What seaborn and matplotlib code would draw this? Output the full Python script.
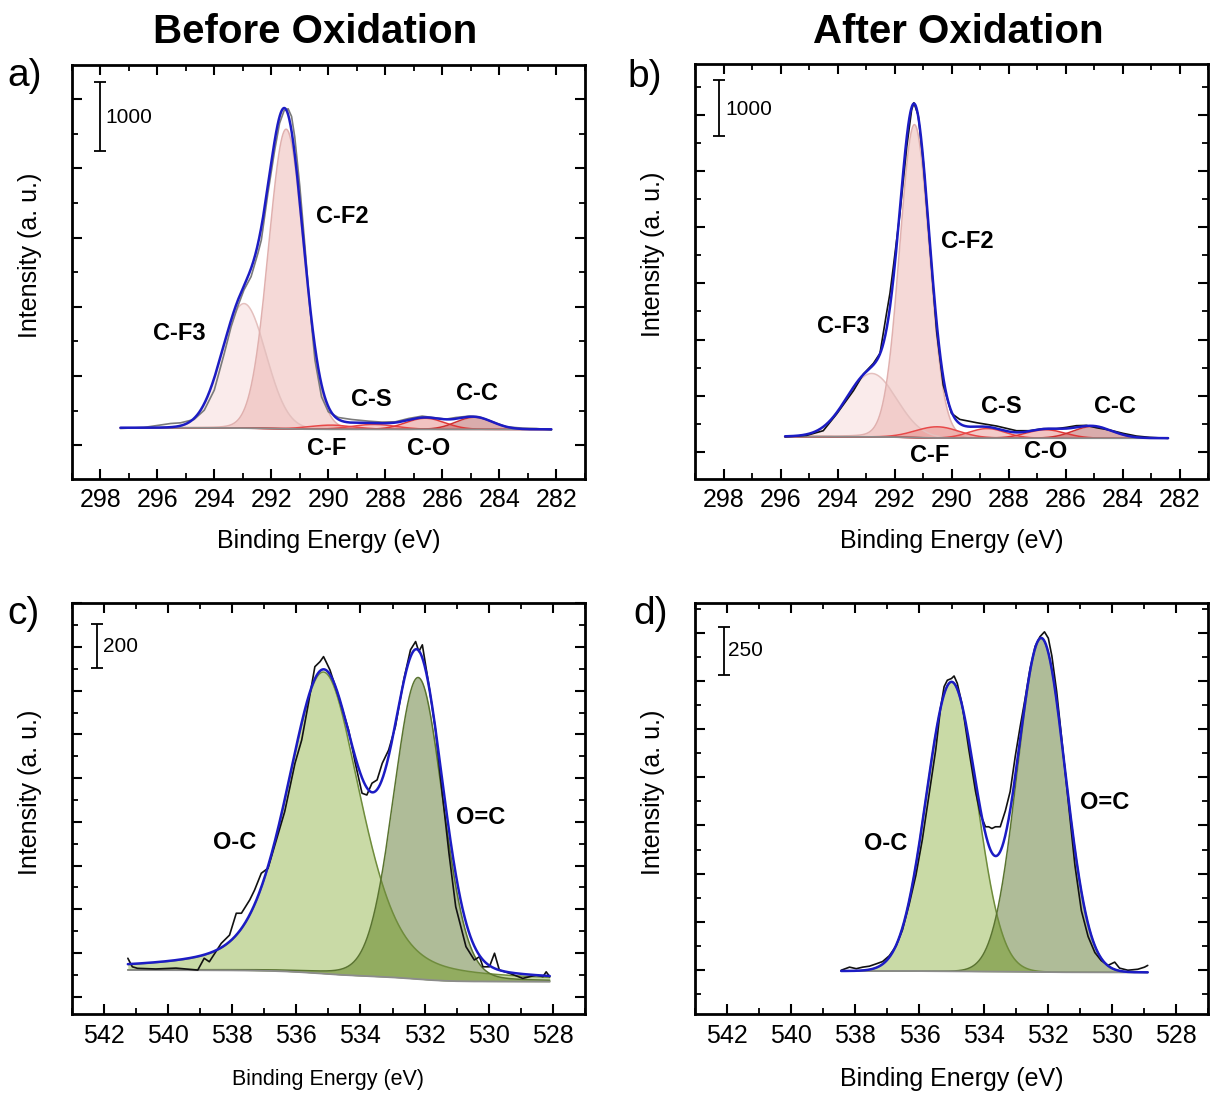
import numpy as np
import matplotlib
matplotlib.use("Agg")
import matplotlib.pyplot as plt
import seaborn as sns
from matplotlib.ticker import MultipleLocator

sns.set_theme(style="ticks")
plt.rcParams["font.family"] = ["Liberation Sans", "DejaVu Sans"]
plt.rcParams.update({"text.color": "black", "axes.labelcolor": "black",
                     "xtick.color": "black", "ytick.color": "black",
                     "axes.edgecolor": "black"})

# ---------------- C 1s, before oxidation (a) ----------------
c1s_pre_be = [297.29, 296.47, 295.53, 295.18, 294.71, 294.35, 294.00, 293.65, 293.41, 293.18,
              292.96, 292.71, 292.47, 292.35, 292.12, 291.88, 291.71, 291.55, 291.41, 291.29,
              291.18, 291.00, 290.82, 290.65, 290.47, 290.24, 290.00, 289.65, 289.18, 288.59,
              288.12, 287.65, 287.18, 286.71, 286.35, 285.88, 285.53, 285.06, 284.71, 284.24,
              283.76, 283.18, 282.71, 282.35, 282.18]
c1s_pre_counts = [1241, 1256, 1313, 1323, 1371, 1506, 1796, 2326, 2712, 3002,
                  3243, 3436, 3773, 3966, 4641, 5268, 5654, 5837, 5862, 5751,
                  5461, 4738, 3870, 3002, 2230, 1699, 1482, 1400, 1371, 1347,
                  1333, 1338, 1386, 1420, 1400, 1376, 1400, 1420, 1410, 1338,
                  1265, 1246, 1241, 1227, 1217]
c1s_labels = ["C-F3", "C-F2", "C-F", "C-S", "C-O", "C-C"]
c1s_pre_center = [292.96, 291.48, 289.90, 288.40, 286.60, 284.88]
c1s_pre_height = [1800, 4330, 60, 70, 160, 175]
c1s_pre_fwhm = [1.80, 1.45, 1.80, 1.80, 1.60, 1.50]
c1s_pre_eta = [0.0, 0.03, 0.0, 0.0, 0.0, 0.0]
c1s_pre_bg = [1250, 1228]          # background at high-BE / low-BE end

# ---------------- C 1s, after oxidation (b) ----------------
c1s_post_be = [295.84, 295.08, 294.50, 294.03, 293.44, 293.09, 292.74, 292.51, 292.28, 292.16,
               292.04, 291.81, 291.57, 291.40, 291.32, 291.17, 290.99, 290.76, 290.52, 290.29,
               290.00, 289.71, 289.12, 288.42, 287.72, 287.25, 286.79, 286.32, 285.97, 285.62,
               285.27, 284.92, 284.45, 283.98, 283.51, 283.05, 282.40]
c1s_post_counts = [1267, 1291, 1374, 1672, 2088, 2385, 2575, 2753, 3466, 3823,
                   4298, 5249, 6438, 7092, 7222, 7002, 6170, 4685, 3139, 2189,
                   1683, 1576, 1517, 1458, 1374, 1374, 1410, 1410, 1434, 1464,
                   1469, 1428, 1386, 1327, 1279, 1256, 1238]
c1s_post_center = [292.80, 291.30, 290.50, 288.75, 286.70, 285.05]
c1s_post_height = [1131, 5580, 200, 170, 150, 210]
c1s_post_fwhm = [2.05, 1.22, 1.80, 1.50, 1.60, 1.60]
c1s_post_eta = [0.0, 0.05, 0.0, 0.0, 0.0, 0.0]
c1s_post_bg = [1267, 1240]

# ---------------- O 1s, before oxidation (c) ----------------
o1s_pre_be = [541.25, 541.11, 540.95, 540.38, 539.75, 539.07, 538.87, 538.71, 538.34, 538.08,
              537.87, 537.71, 537.45, 537.30, 537.09, 536.88, 536.36, 536.04, 535.83, 535.62,
              535.42, 535.26, 535.15, 535.05, 534.95, 534.68, 534.37, 534.16, 533.95, 533.80,
              533.64, 533.48, 533.32, 533.12, 532.91, 532.65, 532.44, 532.28, 532.18, 532.07,
              531.86, 531.66, 531.45, 531.24, 531.03, 530.71, 530.45, 530.29, 530.18, 529.98,
              529.82, 529.67, 529.35, 528.94, 528.52, 528.31, 528.21, 528.10]
o1s_pre_counts = [376, 337, 330, 327, 331, 322, 376, 360, 444, 482,
                  582, 582, 643, 688, 765, 788, 1047, 1268, 1375, 1543,
                  1710, 1733, 1756, 1726, 1695, 1573, 1421, 1268, 1131, 1123,
                  1177, 1192, 1268, 1329, 1436, 1650, 1787, 1825, 1779, 1810,
                  1619, 1421, 1131, 856, 612, 429, 368, 383, 337, 337,
                  399, 322, 307, 284, 299, 292, 314, 292]
o1s_labels = ["O-C", "O=C"]
o1s_pre_center = [535.15, 532.20]
o1s_pre_height = [1380, 1380]
o1s_pre_fwhm = [2.70, 1.80]
o1s_pre_eta = [0.40, 0.10]
o1s_pre_bg = [322, 269]

# ---------------- O 1s, after oxidation (d) ----------------
o1s_post_be = [538.44, 538.18, 537.97, 537.77, 537.56, 537.35, 537.15, 536.94, 536.73, 536.53,
               536.32, 536.11, 535.91, 535.70, 535.49, 535.34, 535.23, 535.13, 535.00, 534.92,
               534.82, 534.67, 534.46, 534.25, 534.10, 533.94, 533.84, 533.74, 533.63, 533.48,
               533.32, 533.17, 533.01, 532.86, 532.70, 532.55, 532.39, 532.24, 532.10, 531.98,
               531.87, 531.72, 531.57, 531.36, 531.15, 530.95, 530.74, 530.53, 530.33, 530.12,
               529.91, 529.76, 529.50, 529.19, 528.98, 528.88]
o1s_post_counts = [249, 265, 257, 265, 270, 282, 294, 324, 374, 458,
                   591, 742, 926, 1160, 1394, 1611, 1720, 1753, 1762, 1775,
                   1737, 1628, 1394, 1176, 1059, 993, 993, 984, 993, 993,
                   1076, 1176, 1360, 1511, 1661, 1812, 1929, 1979, 2004, 1971,
                   1879, 1695, 1461, 1126, 792, 558, 424, 341, 299, 274,
                   291, 260, 249, 254, 265, 274]
o1s_post_center = [535.00, 532.20]
o1s_post_height = [1500, 1730]
o1s_post_fwhm = [1.85, 1.75]
o1s_post_eta = [0.0, 0.0]
o1s_post_bg = [245, 238]


def pseudo_voigt(e, center, height, fwhm, eta):
    d2 = (e - center) ** 2 / fwhm ** 2
    return height * ((1 - eta) * np.exp(-4 * np.log(2) * d2) + eta / (1 + 4 * d2))


def shirley(e, total, high, low):
    # e ascending: background climbs from `low` (low BE) to `high` (high BE)
    area = np.concatenate([[0.0], np.cumsum(0.5 * (total[1:] + total[:-1]) * np.diff(e))])
    return low + (high - low) * area / area[-1]


def line(ax, x, y, color, lw, z=3):
    sns.lineplot(x=np.asarray(x), y=np.asarray(y), ax=ax, color=color, linewidth=lw,
                 estimator=None, sort=False, legend=False, zorder=z)


def draw_fit(ax, be, counts, centers, heights, fwhms, etas, bg, faces, alphas, edges,
             raw_color, overlap=None):
    e = np.linspace(min(be), max(be), 2000)
    comps = [pseudo_voigt(e, c, h, w, n) for c, h, w, n in zip(centers, heights, fwhms, etas)]
    total = np.sum(comps, axis=0)
    base = shirley(e, total, bg[0], bg[1])
    for comp, fc, a in zip(comps, faces, alphas):
        ax.fill_between(e, base, base + comp, color=fc, alpha=a, lw=0, zorder=1)
    if overlap is not None:
        ax.fill_between(e, base, base + np.minimum(comps[0], comps[1]), color=overlap,
                        lw=0, zorder=1.5)
    for comp, ec in zip(comps, edges):
        line(ax, e, base + comp, ec, 1.1, z=2)
    line(ax, e, base, "#8c8c8c", 1.3, z=2.5)
    line(ax, be, counts, raw_color, 1.2, z=3)
    line(ax, e, base + total, "#1c1cc4", 1.8, z=4)


def style_axes(ax, xlim, ylim, ystep, xlabel_size):
    ax.set_xlim(*xlim)
    ax.set_ylim(*ylim)
    ax.xaxis.set_major_locator(MultipleLocator(2))
    ax.xaxis.set_minor_locator(MultipleLocator(1))
    ax.yaxis.set_major_locator(MultipleLocator(ystep))
    ax.yaxis.set_minor_locator(MultipleLocator(ystep / 2))
    ax.tick_params(which="both", direction="in", top=True, right=True, labelleft=False,
                   color="black", labelcolor="black")
    ax.tick_params(which="major", length=7, width=1.5, labelsize=18, pad=7)
    ax.tick_params(which="minor", length=4, width=1.3)
    for s in ax.spines.values():
        s.set_linewidth(2.0)
        s.set_color("black")
    ax.set_ylabel("Intensity (a. u.)", fontsize=18, color="black")
    ax.yaxis.set_label_coords(-0.058, 0.54)
    ax.set_xlabel("Binding Energy (eV)", fontsize=xlabel_size, color="black")


def scale_bar(ax, x, y0, y1, text, tx, ty):
    ax.errorbar([x], [(y0 + y1) / 2], yerr=[(y1 - y0) / 2], color="black", lw=1.3,
                capsize=4, capthick=1.3, zorder=5)
    ax.text(tx, ty, text, fontsize=15, ha="left", va="center", color="black", zorder=5)


W, H = 1211, 1094
fig = plt.figure(figsize=(W / 100, H / 100), dpi=100)


def add_axes(l, r, t, b):
    return fig.add_axes([l / W, 1 - b / H, (r - l) / W, (b - t) / H])


ax_a = add_axes(71.7, 585, 65, 478.5)
ax_b = add_axes(695, 1208, 64, 478.5)
ax_c = add_axes(71.7, 585, 603.3, 1014)
ax_d = add_axes(695, 1208, 603.3, 1014)

pink_faces = ["#eba8a4", "#e8a09c", "#e06a66", "#e06a66", "#e06a66", "#b65a5a"]
pink_alphas = [0.22, 0.40, 0.35, 0.35, 0.40, 0.50]
pink_edges = ["#e4c0be", "#e0b0ae", "#e84848", "#e84848", "#e03838", "#d03030"]

draw_fit(ax_a, c1s_pre_be, c1s_pre_counts, c1s_pre_center, c1s_pre_height, c1s_pre_fwhm,
         c1s_pre_eta, c1s_pre_bg, pink_faces, pink_alphas, pink_edges, "#7a7a7a")
draw_fit(ax_b, c1s_post_be, c1s_post_counts, c1s_post_center, c1s_post_height, c1s_post_fwhm,
         c1s_post_eta, c1s_post_bg, pink_faces, pink_alphas, pink_edges, "#111111")

green_faces = ["#c9daa6", "#afbc98"]
green_edges = ["#6f8c3c", "#5a7430"]
draw_fit(ax_c, o1s_pre_be, o1s_pre_counts, o1s_pre_center, o1s_pre_height, o1s_pre_fwhm,
         o1s_pre_eta, o1s_pre_bg, green_faces, [1, 1], green_edges, "#111111",
         overlap="#92ac60")
draw_fit(ax_d, o1s_post_be, o1s_post_counts, o1s_post_center, o1s_post_height, o1s_post_fwhm,
         o1s_post_eta, o1s_post_bg, green_faces, [1, 1], green_edges, "#111111",
         overlap="#92ac60")

style_axes(ax_a, (299, 281), (518, 6495), 1000, 18)
style_axes(ax_b, (299, 281), (522, 7913), 1000, 18)
style_axes(ax_c, (543, 527), (121, 2000), 200, 15.5)
style_axes(ax_d, (543, 527), (22, 2152), 250, 18)
for ax in (ax_a, ax_b):
    ax.xaxis.set_label_coords(0.5, -0.121)
ax_c.xaxis.set_label_coords(0.5, -0.134)
ax_d.xaxis.set_label_coords(0.5, -0.130)

scale_bar(ax_a, 298.0, 5250, 6250, "1000", 297.83, 5739)
scale_bar(ax_b, 298.15, 6630, 7630, "1000", 297.95, 7105)
scale_bar(ax_c, 542.2, 1705, 1905, "200", 542.03, 1802)
scale_bar(ax_d, 542.1, 1780, 2030, "250", 541.96, 1906)

lab = dict(fontsize=17, fontweight="bold", ha="center", va="center", color="black", zorder=6)
for name, x, y in zip(c1s_labels,
                      [295.24, 289.5, 290.06, 288.51, 286.5, 284.8],
                      [2617, 4302, 955, 1653, 955, 1750]):
    ax_a.text(x, y, name, **lab)
for name, x, y in zip(c1s_labels,
                      [293.8, 289.43, 290.78, 288.26, 286.68, 284.26],
                      [3229, 4744, 941, 1802, 1000, 1802]):
    ax_b.text(x, y, name, **lab)
for name, x, y in zip(o1s_labels, [537.93, 530.25], [904, 1018]):
    ax_c.text(x, y, name, **lab)
for name, x, y in zip(o1s_labels, [537.05, 530.22], [904, 1120]):
    ax_d.text(x, y, name, **lab)

fig.text(315 / W, 1 - 32 / H, "Before Oxidation", fontsize=29, fontweight="bold",
         ha="center", va="center", color="black")
fig.text(958 / W, 1 - 32 / H, "After Oxidation", fontsize=29, fontweight="bold",
         ha="center", va="center", color="black")
for letter, x, y in [("a)", 7, 76), ("b)", 627, 77), ("c)", 7, 614), ("d)", 633, 614)]:
    fig.text(x / W, 1 - y / H, letter, fontsize=28, ha="left", va="center", color="black")

fig.savefig("out.png", dpi=100)
